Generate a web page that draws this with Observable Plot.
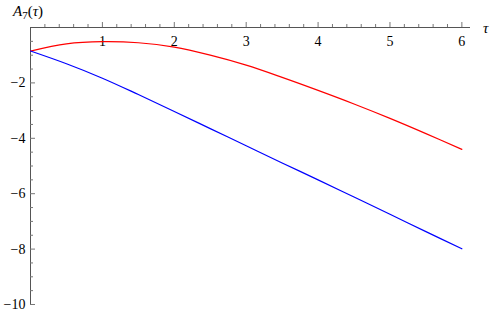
<!DOCTYPE html>
<html>
<head>
<meta charset="utf-8">
<script src="https://cdn.jsdelivr.net/npm/d3@7"></script>
<script src="https://cdn.jsdelivr.net/npm/@observablehq/plot@0.6"></script>
<style>
  html, body { margin: 0; padding: 0; background: #fff; }
  #chart { width: 491px; height: 314px; }
  #chart svg, #chart svg text, #chart svg tspan {
    font-family: "Liberation Serif", "Times New Roman", Times, "DejaVu Serif", serif !important;
  }
</style>
</head>
<body>
<div id="chart"></div>
<script>
// Data
const tau = [0, 0.5, 1, 1.5, 2, 2.5, 3, 3.5, 4, 4.5, 5, 5.5, 6];
const redSeries = [-0.85, -0.59, -0.51, -0.55, -0.71, -1.00, -1.36, -1.80, -2.27, -2.76, -3.28, -3.83, -4.40];
const blueSeries = [-0.85, -1.31, -1.83, -2.42, -3.03, -3.65, -4.27, -4.89, -5.50, -6.12, -6.74, -7.37, -7.99];
const xMajor = [1, 2, 3, 4, 5, 6];
const xMinor = d3.range(1, 31).map(i => i / 5).filter(v => Math.abs(v - Math.round(v)) > 1e-9);
const yMajor = [-2, -4, -6, -8, -10];
const yMinor = d3.range(1, 20).map(i => -i / 2).filter(v => v % 2 !== 0);
const xLabel = "τ";

const redData = tau.map((t, i) => ({t, v: redSeries[i]}));
const blueData = tau.map((t, i) => ({t, v: blueSeries[i]}));

const axisColor = "#555";
const tickColor = "#777";

const chart = Plot.plot({
  width: 491,
  height: 314,
  marginLeft: 30,
  marginRight: 21,
  marginTop: 27,
  marginBottom: 10,
  x: {domain: [0, 6.12], axis: null},
  y: {domain: [-10, 0], axis: null},
  style: {fontSize: "14px", background: "white", color: "black"},
  marks: [
    Plot.ruleY([0], {x1: 0, x2: 6.12, stroke: axisColor, strokeWidth: 1}),
    Plot.ruleX([0], {y1: -10, y2: 0, stroke: axisColor, strokeWidth: 1}),
    Plot.ruleX(xMinor, {x: d => d, y1: 0, y2: 0, insetTop: -3, stroke: tickColor}),
    Plot.ruleX(xMajor, {x: d => d, y1: 0, y2: 0, insetTop: -5, stroke: tickColor}),
    Plot.ruleY(yMinor, {y: d => d, x1: 0, x2: 0, insetRight: -3, stroke: tickColor}),
    Plot.ruleY(yMajor, {y: d => d, x1: 0, x2: 0, insetRight: -5, stroke: tickColor}),
    Plot.text(xMajor, {x: d => d, y: 0, dy: 14, text: d => String(d), fill: "black"}),
    Plot.text(yMajor, {x: 0, y: d => d, dx: -5, textAnchor: "end", text: d => "\u2212" + Math.abs(d), fill: "black"}),
    Plot.line(redData, {x: "t", y: "v", stroke: "#ff0000", strokeWidth: 1.2, curve: "catmull-rom"}),
    Plot.line(blueData, {x: "t", y: "v", stroke: "#0000ff", strokeWidth: 1.2, curve: "catmull-rom"})
  ]
});

const svg = d3.select(chart);
const yt = svg.append("text")
  .attr("x", 13).attr("y", 15.5)
  .attr("text-anchor", "start")
  .attr("font-size", 15)
  .attr("fill", "black");
yt.append("tspan").attr("font-style", "italic").text("A");
yt.append("tspan").attr("font-size", 11).attr("dy", 3).text("7");
yt.append("tspan").attr("dy", -3).text("(");
yt.append("tspan").attr("font-style", "italic").text("τ");
yt.append("tspan").text(")");
svg.append("text")
  .attr("x", 483).attr("y", 33)
  .attr("text-anchor", "start")
  .attr("font-size", 15)
  .attr("font-style", "italic")
  .attr("fill", "black")
  .text(xLabel);

document.getElementById("chart").appendChild(chart);
</script>
</body>
</html>
